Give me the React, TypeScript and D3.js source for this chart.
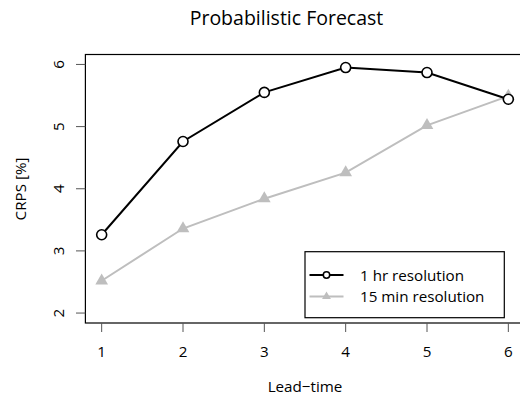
import React from "react";
import * as d3 from "d3";

const leadTimes = [1, 2, 3, 4, 5, 6];
const hourly = [3.26, 4.76, 5.55, 5.95, 5.87, 5.44];
const quarterHourly = [2.52, 3.36, 3.84, 4.26, 5.02, 5.49];
const yTicks = [2, 3, 4, 5, 6];
const seriesNames = ["1 hr resolution", "15 min resolution"];

const W = 520, H = 400;
const FONT = "'Open Sans', 'Noto Sans', sans-serif";

export default function App() {
  const x = d3.scaleLinear().domain([0.8, 6.2]).range([85.4, 524.6]);
  const y = d3.scaleLinear().domain([1.84, 6.16]).range([323, 54.5]);
  const line = d3.line<number>().x((_, i) => x(leadTimes[i])).y((d) => y(d));
  const tri = d3.symbol().type(d3.symbolTriangle).size(70)();
  const triSmall = d3.symbol().type(d3.symbolTriangle).size(34)();
  const gray = "#bebebe";
  const fs = 15.2;
  return (
    <svg width={W} height={H} style={{ position: "absolute", left: 0, top: 0 }} fontFamily={FONT}>
      <rect width={W} height={H} fill="white" />
      <text x={286.5} y={25} textAnchor="middle" fontSize={19.5} fill="#000">Probabilistic Forecast</text>
      <rect x={x(0.8)} y={y(6.16)} width={x(6.2) - x(0.8)} height={y(1.84) - y(6.16)} fill="none" stroke="#000" strokeWidth={1.2} />
      {leadTimes.map((t) => (
        <g key={"xt" + t}>
          <line x1={x(t)} x2={x(t)} y1={323} y2={332} stroke="#555" strokeWidth={1} />
          <text x={x(t)} y={357} textAnchor="middle" fontSize={fs}>{t}</text>
        </g>
      ))}
      {yTicks.map((t) => (
        <g key={"yt" + t}>
          <line x1={76} x2={85.4} y1={y(t)} y2={y(t)} stroke="#555" strokeWidth={1} />
          <text transform={`translate(64,${y(t)}) rotate(-90)`} textAnchor="middle" fontSize={fs}>{t}</text>
        </g>
      ))}
      <text x={305} y={392} textAnchor="middle" fontSize={fs}>Lead−time</text>
      <text transform={`translate(26,189) rotate(-90)`} textAnchor="middle" fontSize={fs}>CRPS [%]</text>
      <path d={line(quarterHourly) || ""} fill="none" stroke={gray} strokeWidth={2} />
      {quarterHourly.map((v, i) => (
        <path key={"q" + i} d={tri || ""} transform={`translate(${x(leadTimes[i])},${y(v)})`} fill={gray} />
      ))}
      <path d={line(hourly) || ""} fill="none" stroke="#000" strokeWidth={2} />
      {hourly.map((v, i) => (
        <circle key={"h" + i} cx={x(leadTimes[i])} cy={y(v)} r={5} fill="white" stroke="#000" strokeWidth={1.6} />
      ))}
      <g>
        <rect x={305} y={251.7} width={199.3} height={66} fill="white" stroke="#000" strokeWidth={1.2} />
        <line x1={309.5} x2={343.5} y1={275} y2={275} stroke="#000" strokeWidth={2} />
        <circle cx={326.5} cy={275} r={3.2} fill="white" stroke="#000" strokeWidth={1.5} />
        <text x={360} y={280.5} fontSize={fs}>{seriesNames[0]}</text>
        <line x1={309.5} x2={343.5} y1={296.5} y2={296.5} stroke={gray} strokeWidth={2} />
        <path d={triSmall || ""} transform={`translate(326.5,296.5)`} fill={gray} />
        <text x={360} y={302} fontSize={fs}>{seriesNames[1]}</text>
      </g>
    </svg>
  );
}
